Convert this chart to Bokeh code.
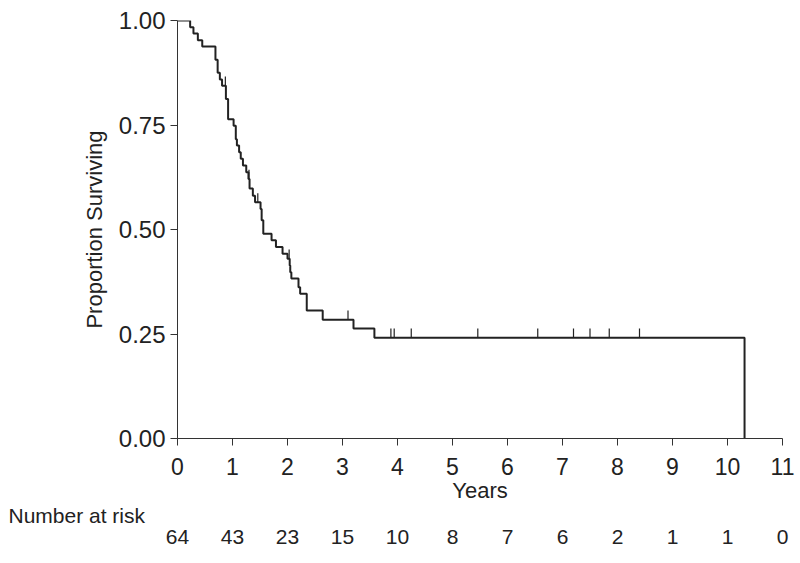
import numpy as np
from bokeh.plotting import figure
from bokeh.models import Range1d, FixedTicker, NumeralTickFormatter, LinearAxis, Title
from bokeh.embed import file_html
from bokeh.resources import INLINE

# Kaplan-Meier step data
step_times = [0.0, 0.23, 0.29, 0.37, 0.45, 0.69, 0.73, 0.77, 0.81, 0.88, 0.92, 1.02, 1.06, 1.08,
              1.12, 1.15, 1.19, 1.25, 1.29, 1.31, 1.37, 1.41, 1.51, 1.53, 1.56, 1.71, 1.79, 1.91,
              2.00, 2.04, 2.05, 2.07, 2.20, 2.23, 2.35, 2.64, 3.20, 3.58, 10.31]
step_surv = [1.000, 0.984, 0.969, 0.953, 0.938, 0.906, 0.875, 0.859, 0.844, 0.812, 0.764, 0.748,
             0.716, 0.701, 0.685, 0.669, 0.653, 0.637, 0.621, 0.598, 0.581, 0.565, 0.549, 0.522,
             0.490, 0.474, 0.458, 0.442, 0.430, 0.414, 0.398, 0.383, 0.362, 0.346, 0.306, 0.284,
             0.263, 0.241, 0.000]
censor_times = [0.87, 1.30, 1.46, 2.03, 3.10, 3.88, 3.94, 4.25, 5.46, 6.55, 7.20, 7.50, 7.85, 8.40]

risk_years = [0, 1, 2, 3, 4, 5, 6, 7, 8, 9, 10, 11]
risk_counts = [64, 43, 23, 15, 10, 8, 7, 6, 2, 1, 1, 0]

y_ticks = [0.0, 0.25, 0.5, 0.75, 1.0]

FONT = "Liberation Sans"
INK = "#222222"

p = figure(width=798, height=563, output_backend="svg", toolbar_location=None,
           x_range=Range1d(0, 11), y_range=Range1d(0, 1),
           min_border_left=177, min_border_right=16, min_border_top=20, min_border_bottom=125)
p.outline_line_color = None
p.xgrid.visible = False
p.ygrid.visible = False

p.step(step_times, step_surv, mode="after", line_width=2, line_color=INK)

idx = np.searchsorted(np.array(step_times), np.array(censor_times), side="right") - 1
cs = np.array(step_surv)[idx]
p.segment(x0=censor_times, y0=cs, x1=censor_times, y1=cs + 0.022, line_width=1.2, line_color=INK)

for ax in (p.xaxis[0], p.yaxis[0]):
    ax.axis_line_color = "#333333"
    ax.axis_line_width = 1
    ax.major_tick_line_color = "#333333"
    ax.major_tick_out = 7
    ax.major_tick_in = 0
    ax.minor_tick_line_color = None
    ax.major_label_text_font = FONT
    ax.major_label_text_font_size = "23px"
    ax.major_label_text_color = INK
    ax.axis_label_text_font = FONT
    ax.axis_label_text_font_size = "22px"
    ax.axis_label_text_font_style = "normal"
    ax.axis_label_text_color = INK

p.yaxis.major_label_text_font_size = "24px"

p.xaxis.ticker = FixedTicker(ticks=risk_years)
p.xaxis.axis_label = "Years"
p.xaxis.major_label_standoff = 12
p.xaxis.axis_label_standoff = 0

p.yaxis.ticker = FixedTicker(ticks=y_ticks)
p.yaxis.formatter = NumeralTickFormatter(format="0.00")
p.yaxis.axis_label = "Proportion Surviving"
p.yaxis.major_label_standoff = 5
p.yaxis.axis_label_standoff = 9

# "Number at risk" row heading
p.add_layout(Title(text="Number at risk", align="left", offset=-169, standoff=-8,
                   text_font=FONT, text_font_size="21px", text_font_style="normal",
                   text_color=INK), "below")

# at-risk counts as an extra axis sharing the year ticks
risk_axis = LinearAxis(ticker=FixedTicker(ticks=risk_years),
                       major_label_overrides={y: str(c) for y, c in zip(risk_years, risk_counts)},
                       axis_line_color=None, major_tick_line_color=None, minor_tick_line_color=None,
                       major_tick_out=0, major_tick_in=0, major_label_standoff=7,
                       major_label_text_font=FONT, major_label_text_font_size="21px",
                       major_label_text_color=INK)
p.add_layout(risk_axis, "below")

open("out.html", "w").write(file_html(p, INLINE))
